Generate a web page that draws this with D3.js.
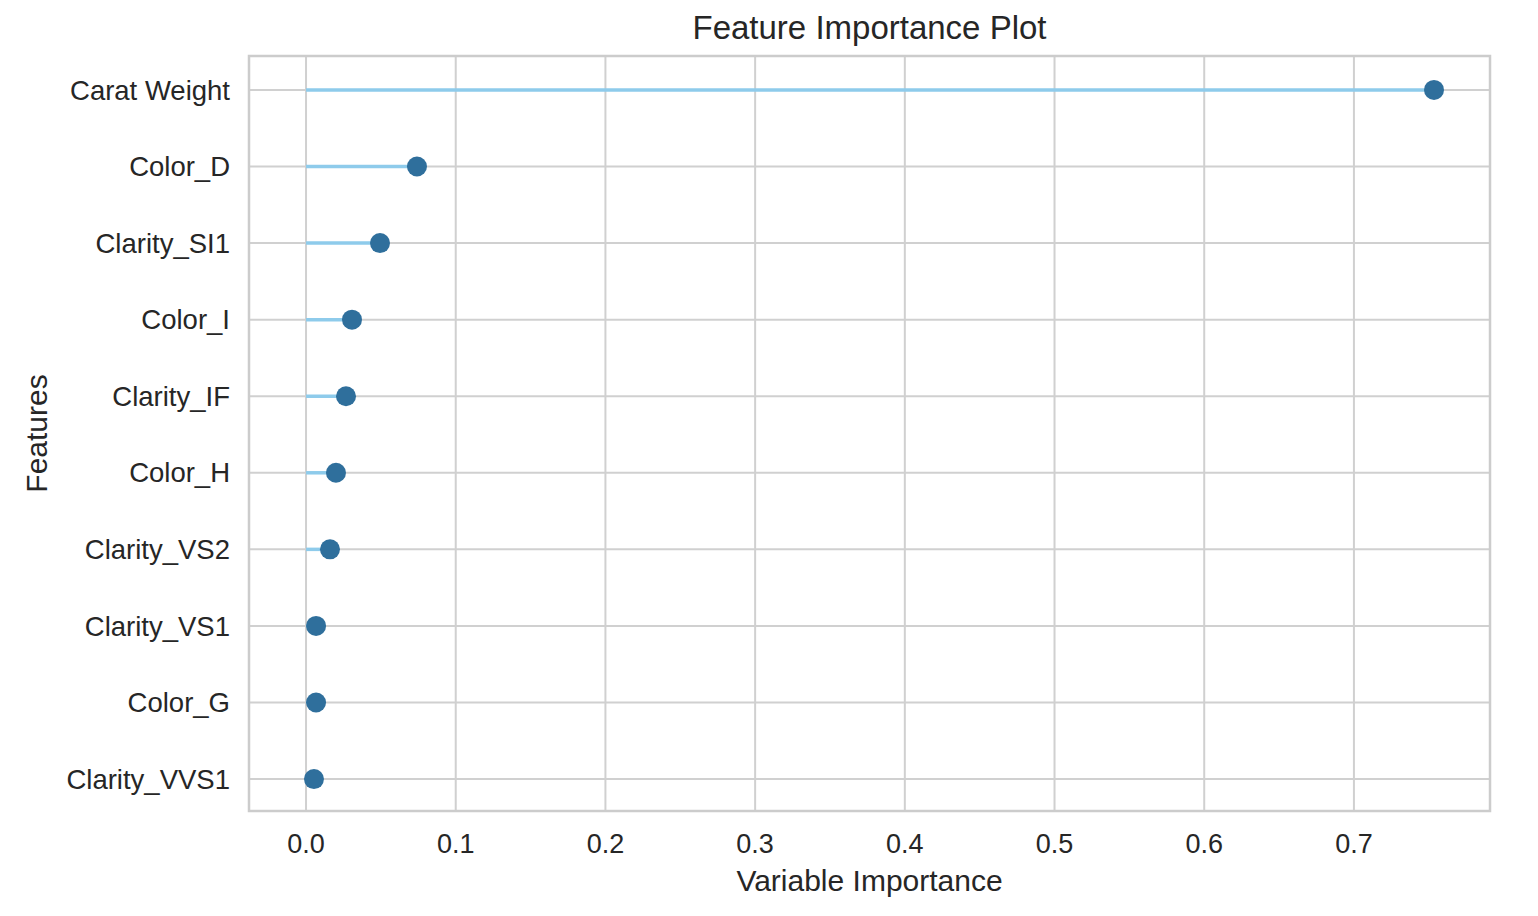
<!DOCTYPE html>
<html><head><meta charset="utf-8">
<script src="https://cdn.jsdelivr.net/npm/d3@7"></script>
<style>body{margin:0;background:#fff}text{font-family:"Liberation Sans",Arial,sans-serif;fill:#262626}</style>
</head><body><svg id="c" width="1538" height="916"></svg>
<script>
const features = ["Carat Weight","Color_D","Clarity_SI1","Color_I","Clarity_IF","Color_H","Clarity_VS2","Clarity_VS1","Color_G","Clarity_VVS1"]
const importance = [0.7535,0.0741,0.0494,0.0307,0.0267,0.020,0.016,0.0067,0.0067,0.0053]
const xTicks = [0,0.1,0.2,0.3,0.4,0.5,0.6,0.7]

const svg = d3.select("#c")
const m = {l:249,r:1490,t:56,b:811}
const x = d3.scaleLinear().domain([-0.0381,0.7909]).range([m.l,m.r])
const y = d3.scalePoint().domain(features).range([m.t,m.b]).padding(0.43)

svg.append("g").selectAll("line").data(xTicks).join("line")
	.attr("x1",d=>x(d)).attr("x2",d=>x(d)).attr("y1",m.t).attr("y2",m.b)
	.attr("stroke","#d0d0d0").attr("stroke-width",2)
svg.append("g").selectAll("line").data(features).join("line")
	.attr("x1",m.l).attr("x2",m.r).attr("y1",d=>y(d)+1).attr("y2",d=>y(d)+1)
	.attr("stroke","#d0d0d0").attr("stroke-width",2)
svg.append("rect").attr("x",m.l).attr("y",m.t).attr("width",m.r-m.l).attr("height",m.b-m.t)
	.attr("fill","none").attr("stroke","#cccccc").attr("stroke-width",2.5)

svg.append("g").selectAll("line").data(features).join("line")
	.attr("x1",x(0)).attr("x2",(d,i)=>x(importance[i])).attr("y1",d=>y(d)+1).attr("y2",d=>y(d)+1)
	.attr("stroke","#8ecbeb").attr("stroke-width",3.5)
svg.append("g").selectAll("circle").data(features).join("circle")
	.attr("cx",(d,i)=>x(importance[i])).attr("cy",d=>y(d)+1).attr("r",10)
	.attr("fill","#2f6f9c")

svg.append("g").selectAll("text").data(features).join("text")
	.attr("x",m.l-19).attr("y",d=>y(d)+1).attr("dy","0.35em").attr("text-anchor","end")
	.attr("font-size",27.5).text(d=>d)
svg.append("g").selectAll("text").data(xTicks).join("text")
	.attr("x",d=>x(d)).attr("y",m.b+42).attr("text-anchor","middle")
	.attr("font-size",27).text(d=>d.toFixed(1))

svg.append("text").attr("x",(m.l+m.r)/2).attr("y",39).attr("text-anchor","middle").attr("font-size",33).text("Feature Importance Plot")
svg.append("text").attr("x",(m.l+m.r)/2).attr("y",891).attr("text-anchor","middle").attr("font-size",30).text("Variable Importance")
svg.append("text").attr("transform","translate(47,"+(m.t+m.b)/2+") rotate(-90)").attr("text-anchor","middle").attr("font-size",30).text("Features")
</script></body></html>
